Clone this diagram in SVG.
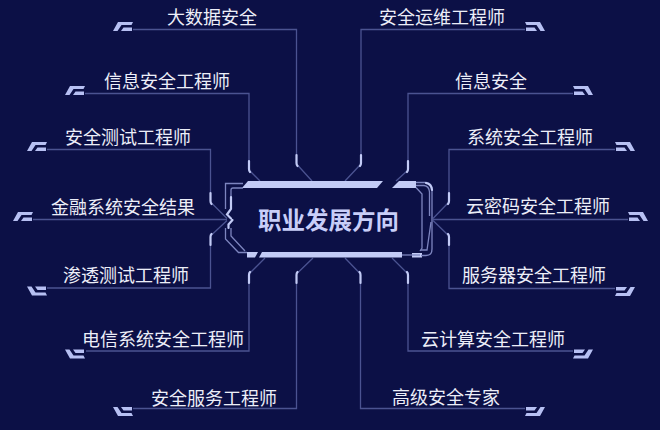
<svg xmlns="http://www.w3.org/2000/svg" width="660" height="430" viewBox="0 0 660 430">
<defs>
<style>
.lbl{font-family:"Noto Sans CJK SC","Noto Sans",sans-serif;font-size:18px;fill:#eceef8;}
.title{font-family:"Noto Sans CJK SC","Noto Sans",sans-serif;font-size:23.5px;font-weight:bold;fill:#c8cef8;}
.dim{fill:none;stroke:#4b5391;stroke-width:1.3;}
.frm{fill:none;stroke:#7d85bf;stroke-width:1.3;}
.brt{fill:none;stroke:#c3cbf6;stroke-width:2.2;stroke-linecap:round;}
.bar{fill:#c3cbf6;}
.ico{fill:#b7c0f3;}
</style>
<g id="icon">
<path class="ico" d="M5,0 H20 L18.5,3 H8.5 L4.5,9 H0 Z"/>
<path class="ico" d="M10.5,5.5 H19 V9 H8 Z"/>
</g>
</defs>
<rect width="660" height="430" fill="#0c1046"/>

<g id="connectors">
<path class="dim" d="M133,29.5 H296.5 V155 M297.5,165 L312,181"/>
<path class="brt" d="M296.5,155 V163 Q296.5,165 297.5,166"/>
<path class="dim" d="M85,93.5 H249 V161 M250,171 L260,181"/>
<path class="brt" d="M249,161 V169 Q249,171 250,172"/>
<path class="dim" d="M47,149.5 H210.5 V193 M211.5,203 L227,218.5"/>
<path class="brt" d="M210.5,193 V201 Q210.5,203 211.5,204"/>
<path class="dim" d="M33,219.5 H227"/>
<path class="dim" d="M47,288 H210.5 V245 M211.5,235 L227,220.5"/>
<path class="brt" d="M210.5,245 V237 Q210.5,235 211.5,234"/>
<path class="dim" d="M86,351 H249 V283 M250,273 L265,258"/>
<path class="brt" d="M249,283 V275 Q249,273 250,272"/>
<path class="dim" d="M133,408.5 H296.5 V283 M297.5,273 L313,258"/>
<path class="brt" d="M296.5,283 V275 Q296.5,273 297.5,272"/>
<path class="dim" d="M525,29.5 H361 V155 M360,165 L345,181"/>
<path class="brt" d="M361,155 V163 Q361,165 360,166"/>
<path class="dim" d="M573,93.5 H408 V161 M407,171 L396,181"/>
<path class="brt" d="M408,161 V169 Q408,171 407,172"/>
<path class="dim" d="M615,149.5 H449 V193 M448,203 L433,218.5"/>
<path class="brt" d="M449,193 V201 Q449,203 448,204"/>
<path class="dim" d="M628,219.5 H433"/>
<path class="dim" d="M615,288.5 H449 V245 M448,235 L433,220.5"/>
<path class="brt" d="M449,245 V237 Q449,235 448,234"/>
<path class="dim" d="M573,351 H408 V283 M407,273 L392,258"/>
<path class="brt" d="M408,283 V275 Q408,273 407,272"/>
<path class="dim" d="M525,408.5 H360.5 V283 M359.5,273 L345,258"/>
<path class="brt" d="M360.5,283 V275 Q360.5,273 359.5,272"/>
</g>

<g id="center">
<polygon class="bar" points="248,181 383,181 377,188 242,188"/>
<polygon class="bar" points="399,181 416,181 416,188 392,188"/>
<polygon class="bar" points="247,252 258,252 255,257.5 247,257.5"/>
<polygon class="bar" points="262,252 402,252 402,257.5 259,257.5"/>
<rect class="bar" x="412" y="253" width="10" height="4.5"/>
<path class="frm" d="M402,255 H420"/>
<path class="frm" d="M243,183.5 H225.5 V209 M225.5,228 V239 L238.5,252.5 H247"/>
<path class="frm" d="M243,188 H233 Q231,188 231,190 V209 M231,228 V236 L245,251"/>
<path class="brt" d="M231,197 V209 L227,214.5 L231,218.5 M232.5,220 L228.5,224.5 V228"/>
<path class="frm" d="M416,182.5 H426 Q432,183 432,190 V249 Q432,255.5 426,255.5 H421"/>
<path class="frm" d="M416,185.5 H424 Q429,186 429.5,192 V216"/>
<path class="frm" d="M416,187.5 L422,194 V248 L420,251"/>
<path class="frm" d="M431,222 L427,250 H421"/>
<path class="brt" d="M426,183 Q431.5,184 432,190"/>
<text class="title" x="328.5" y="229" text-anchor="middle">职业发展方向</text>
</g>

<g id="n-dsj"><use href="#icon" transform="translate(113,22)"/><text class="lbl" x="167" y="24">大数据安全</text></g>
<g id="n-xxaqgcs"><use href="#icon" transform="translate(65,86)"/><text class="lbl" x="104" y="88">信息安全工程师</text></g>
<g id="n-aqcsgcs"><use href="#icon" transform="translate(27,142)"/><text class="lbl" x="65" y="144">安全测试工程师</text></g>
<g id="n-jrxt"><use href="#icon" transform="translate(13,212)"/><text class="lbl" x="51" y="214">金融系统安全结果</text></g>
<g id="n-stcs"><use href="#icon" transform="translate(27,295.5) scale(1,-1)"/><text class="lbl" x="63" y="282">渗透测试工程师</text></g>
<g id="n-dxxt"><use href="#icon" transform="translate(65,358.5) scale(1,-1)"/><text class="lbl" x="82" y="346">电信系统安全工程师</text></g>
<g id="n-aqfw"><use href="#icon" transform="translate(113,416) scale(1,-1)"/><text class="lbl" x="151" y="404.5">安全服务工程师</text></g>

<g id="n-aqyw"><use href="#icon" transform="translate(545,22) scale(-1,1)"/><text class="lbl" x="379" y="24">安全运维工程师</text></g>
<g id="n-xxaq"><use href="#icon" transform="translate(593,86) scale(-1,1)"/><text class="lbl" x="455" y="87.5">信息安全</text></g>
<g id="n-xtaq"><use href="#icon" transform="translate(635,142) scale(-1,1)"/><text class="lbl" x="467" y="144">系统安全工程师</text></g>
<g id="n-ymm"><use href="#icon" transform="translate(648,212) scale(-1,1)"/><text class="lbl" x="466" y="213">云密码安全工程师</text></g>
<g id="n-fwq"><use href="#icon" transform="translate(635,296) scale(-1,-1)"/><text class="lbl" x="462" y="282">服务器安全工程师</text></g>
<g id="n-yjs"><use href="#icon" transform="translate(593,358.5) scale(-1,-1)"/><text class="lbl" x="421" y="346">云计算安全工程师</text></g>
<g id="n-gjzj"><use href="#icon" transform="translate(545,416) scale(-1,-1)"/><text class="lbl" x="392" y="404">高级安全专家</text></g>
</svg>
